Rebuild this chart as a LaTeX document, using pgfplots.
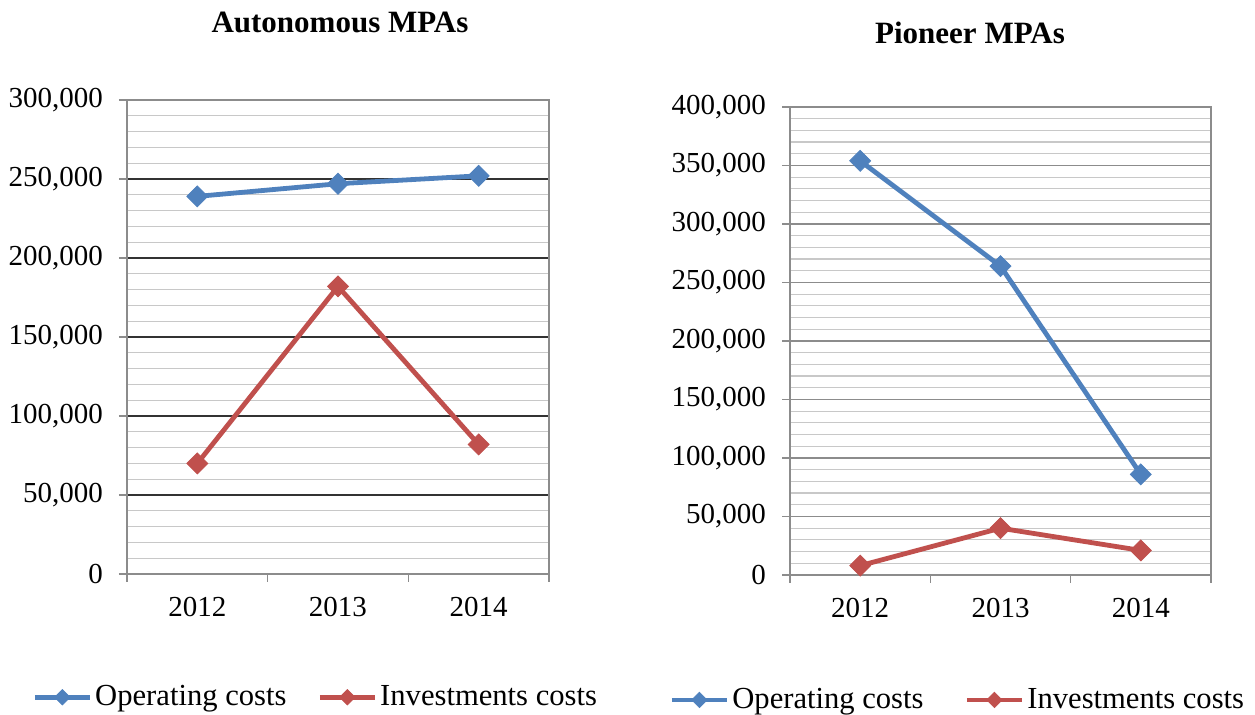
\documentclass[border=0pt]{standalone}
\usepackage{pgfplots}
\pgfplotsset{compat=1.18}
\usepackage{fontspec}
\setmainfont{Liberation Serif}
\definecolor{opblue}{HTML}{4F81BD}
\definecolor{invred}{HTML}{C0504D}
\definecolor{axgray}{HTML}{8C8C8C}
\definecolor{mingray}{HTML}{C8C8C8}

\pgfplotsset{
 mpa/.style={
  scale only axis,
  xmin=-0.5, xmax=2.5,
  ymin=0,
  xtick={-0.5,0.5,1.5,2.5},
  xticklabels={2012,2013,2014},
  x tick label as interval,
  xtick pos=bottom, ytick pos=left,
  ytick distance=50000,
  minor y tick num=4,
  ymajorgrids, yminorgrids,
  minor grid style={mingray, line width=0.6pt},
  axis line style={axgray, line width=0.6pt},
  tick style={axgray, line width=0.6pt},
  tick align=outside,
  major tick length=4pt,
  minor tick length=0pt,
  scaled y ticks=false,
  /pgf/number format/assume math mode=true,
  /pgf/number format/1000 sep={,},
  /pgf/number format/fixed,
  tick label style={font=\fontsize{14.5}{16}\selectfont},
  yticklabel style={xshift=-4.5pt},
  xticklabel style={yshift=-4pt},
  clip=false,
  legend columns=2,
  legend image code/.code={
    \draw[#1, mark=none, line width=2.4pt] (0pt,0pt) -- (27.5pt,0pt);
    \draw[#1, mark size=2.7pt] plot coordinates {(13.75pt,0pt)};
  },
  legend style={draw=none, fill=none, inner sep=0pt,
    font=\fontsize{15.3}{17}\selectfont,
    nodes={inner xsep=1.5pt, inner ysep=0pt},
    anchor=west},
 },
 opline/.style={opblue, line width=2.4pt, mark=square*, mark size=3.7pt,
   mark options={rotate=45, line width=0.4pt, fill=opblue}},
 invline/.style={invred, line width=2.4pt, mark=square*, mark size=3.7pt,
   mark options={rotate=45, line width=0.4pt, fill=invred}},
}

\begin{document}
\begin{tikzpicture}
\useasboundingbox (0,0) rectangle (627.5pt,-357.5pt);

\node[anchor=base, font=\fontsize{15.5}{18}\selectfont\bfseries] at (170pt,-16.5pt) {Autonomous MPAs};
\node[anchor=base, font=\fontsize{15.5}{18}\selectfont\bfseries] at (485pt,-22pt) {Pioneer MPAs};

\begin{axis}[mpa,
  at={(63.5pt,-287pt)}, anchor=south west,
  width=211pt, height=237pt,
  ymax=300000,
  major grid style={black!80, line width=0.6pt},
  legend style={at={(-0.225,-0.26)}, /tikz/every even column/.append style={column sep=14pt}},
]
\addplot[opline] coordinates {(0,239000) (1,247000) (2,252000)};
\addplot[invline] coordinates {(0,70000) (1,182000) (2,82000)};
\legend{Operating costs, Investments costs}
\end{axis}

\begin{axis}[mpa,
  at={(395pt,-287.5pt)}, anchor=south west,
  width=210.5pt, height=234pt,
  ymax=400000,
  major grid style={axgray, line width=0.6pt},
  legend style={at={(-0.287,-0.267)}, /tikz/every even column/.append style={column sep=19pt}},
]
\addplot[opline] coordinates {(0,354000) (1,264000) (2,86000)};
\addplot[invline] coordinates {(0,8000) (1,40000) (2,21000)};
\legend{Operating costs, Investments costs}
\end{axis}
\end{tikzpicture}
\end{document}
